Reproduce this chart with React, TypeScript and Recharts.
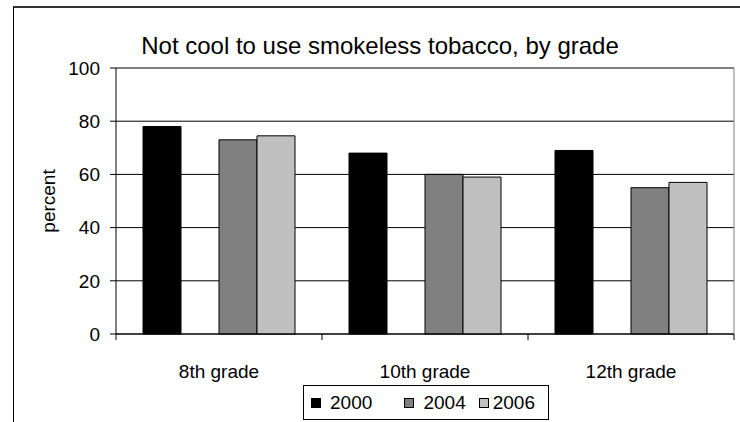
import React from 'react';
import { BarChart, Bar, XAxis, YAxis, CartesianGrid, Legend, ReferenceLine } from 'recharts';

const grades = ['8th grade', '10th grade', '12th grade'];
const y2000 = [78, 68, 69];
const y2002: (number | null)[] = [null, null, null];
const y2004 = [73, 60, 55];
const y2006 = [74.5, 59, 57];
const yTicks = [0, 20, 40, 60, 80, 100];
const seriesOrder = ['y2000', 'y2002', 'y2004', 'y2006'];

const data = grades.map((grade, i) => ({
  grade,
  y2000: y2000[i],
  y2002: y2002[i],
  y2004: y2004[i],
  y2006: y2006[i],
}));

const FONT = '"Liberation Sans", Arial, sans-serif';

function GradeTick(props: any) {
  const { x, y, payload, index } = props;
  const half = payload?.offset ?? 0;
  const last = index === grades.length - 1;
  return (
    <g>
      <line x1={x - half} x2={x - half} y1={y} y2={y + 6} stroke="#000" />
      {last && <line x1={x + half} x2={x + half} y1={y} y2={y + 6} stroke="#000" />}
      <text x={x} y={y + 44} textAnchor="middle" fontSize={19} fontFamily={FONT} fill="#000">
        {payload.value}
      </text>
    </g>
  );
}

function BoxLegend({ payload }: any) {
  const items = [...(payload || [])].sort(
    (a: any, b: any) => seriesOrder.indexOf(a.dataKey) - seriesOrder.indexOf(b.dataKey)
  );
  return (
    <div
      style={{
        boxSizing: 'border-box',
        width: 246,
        height: 35,
        border: '1px solid #000',
        display: 'flex',
        alignItems: 'center',
        paddingLeft: 7,
        fontFamily: FONT,
        fontSize: 19,
        color: '#000',
        background: '#fff',
      }}
    >
      {items.map((entry: any, i: number) =>
        entry.dataKey !== 'y2002' ? (
          <span key={i} style={{ display: 'flex', alignItems: 'center', marginRight: 13 }}>
            <span
              style={{
                display: 'inline-block',
                width: 8,
                height: 8,
                background: entry.color,
                border: '1px solid #000',
                marginRight: entry.dataKey === 'y2006' ? 4 : 9,
              }}
            />
            {entry.value}
          </span>
        ) : (
          <span key={i} style={{ display: 'inline-block', width: 21 }} />
        )
      )}
    </div>
  );
}

export default function App() {
  return (
    <div style={{ position: 'absolute', left: 0, top: 0, width: 740, height: 422, background: '#fff' }}>
      <BarChart
        width={740}
        height={422}
        data={data}
        margin={{ top: 68, right: 5, left: 0, bottom: 38 }}
        barCategoryGap={27}
        barGap={0}
      >
        <CartesianGrid vertical={false} stroke="#000" />
        <XAxis
          dataKey="grade"
          interval={0}
          height={50}
          tickSize={0}
          tickMargin={0}
          tickLine={false}
          axisLine={{ stroke: '#000' }}
          tick={<GradeTick />}
        />
        <YAxis
          domain={[0, 100]}
          ticks={yTicks}
          width={116}
          tickSize={6}
          tickMargin={10}
          axisLine={{ stroke: '#000' }}
          tickLine={{ stroke: '#000' }}
          tick={{ fill: '#000', fontSize: 19, fontFamily: FONT }}
          label={{
            value: 'percent',
            content: (p: any) => {
              const vb = p.viewBox || { x: 0, y: 68, width: 116, height: 266 };
              const cx = vb.x + 48;
              const cy = vb.y + vb.height / 2;
              return (
                <text
                  transform={`translate(${cx},${cy}) rotate(-90)`}
                  textAnchor="middle"
                  dominantBaseline="central"
                  fontSize={19}
                  fontFamily={FONT}
                  fill="#000"
                >
                  percent
                </text>
              );
            },
          }}
        />
        <YAxis
          yAxisId="right"
          orientation="right"
          width={1}
          domain={[0, 100]}
          tick={false}
          tickLine={false}
          axisLine={{ stroke: '#808080' }}
        />
        <ReferenceLine y={100} stroke="#808080" />
        <Legend
          verticalAlign="middle"
          align="center"
          itemSorter={null as any}
          wrapperStyle={{ left: 303, top: 385, width: 246, height: 35 }}
          content={<BoxLegend />}
        />
        <Bar dataKey="y2000" name="2000" fill="#000000" stroke="#000" strokeWidth={1} isAnimationActive={false} />
        <Bar dataKey="y2002" name="2002" fill="#ffffff" stroke="none" isAnimationActive={false} />
        <Bar dataKey="y2004" name="2004" fill="#808080" stroke="#000" strokeWidth={1} isAnimationActive={false} />
        <Bar dataKey="y2006" name="2006" fill="#C0C0C0" stroke="#000" strokeWidth={1} isAnimationActive={false} />
      </BarChart>
      <div
        style={{
          position: 'absolute',
          left: 0,
          width: 760,
          top: 34,
          textAlign: 'center',
          fontFamily: FONT,
          fontSize: 24,
          lineHeight: '24px',
          color: '#000',
          pointerEvents: 'none',
        }}
      >
        Not cool to use smokeless tobacco, by grade
      </div>
      <div
        style={{
          position: 'absolute',
          left: 13,
          top: 6,
          right: 0,
          bottom: 0,
          borderTop: '2px solid #333',
          borderLeft: '1px solid #000',
          pointerEvents: 'none',
        }}
      />
    </div>
  );
}
